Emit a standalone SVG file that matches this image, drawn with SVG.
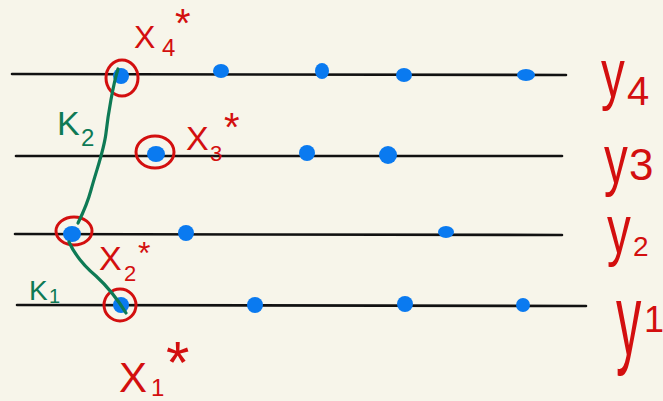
<svg xmlns="http://www.w3.org/2000/svg" width="663" height="401" viewBox="0 0 663 401">
<style>
.ln{stroke:#111;stroke-width:2.6;fill:none;stroke-linecap:round}
.dot{fill:#0a7af0}
.ring{fill:none;stroke:#d30f0f;stroke-width:3}
.grn{fill:none;stroke:#0e7a55;stroke-width:3.2;stroke-linecap:round}
.red{fill:#d30f0f;font-family:"Liberation Sans",Arial,sans-serif}
.gt{fill:#0e7a55;font-family:"Liberation Sans",Arial,sans-serif}
</style>
<rect width="663" height="401" fill="#f7f5ea"/>
<g id="lines">
<line class="ln" x1="12" y1="74" x2="566" y2="75"/>
<line class="ln" x1="16" y1="156" x2="562" y2="156"/>
<line class="ln" x1="15" y1="234" x2="562" y2="235"/>
<line class="ln" x1="17" y1="305" x2="586" y2="306"/>
</g>
<g id="dots">
<ellipse class="dot" cx="121" cy="76" rx="8" ry="8"/>
<ellipse class="dot" cx="221" cy="71" rx="8" ry="7"/>
<ellipse class="dot" cx="322" cy="71" rx="7" ry="8"/>
<ellipse class="dot" cx="404" cy="75" rx="8" ry="7"/>
<ellipse class="dot" cx="526" cy="75" rx="9" ry="6"/>
<ellipse class="dot" cx="156" cy="154" rx="9" ry="8"/>
<ellipse class="dot" cx="307" cy="153" rx="8" ry="8"/>
<ellipse class="dot" cx="388" cy="155" rx="9" ry="9"/>
<ellipse class="dot" cx="72" cy="234" rx="9" ry="8"/>
<ellipse class="dot" cx="186" cy="233" rx="8" ry="8"/>
<ellipse class="dot" cx="446" cy="232" rx="8" ry="6"/>
<ellipse class="dot" cx="121" cy="305" rx="8" ry="8"/>
<ellipse class="dot" cx="255" cy="305" rx="8" ry="8"/>
<ellipse class="dot" cx="405" cy="304" rx="8" ry="8"/>
<ellipse class="dot" cx="523" cy="305" rx="7" ry="7"/>
</g>
<g id="rings">
<ellipse class="ring" cx="122" cy="78" rx="16" ry="18"/>
<ellipse class="ring" cx="155" cy="152" rx="19" ry="16"/>
<ellipse class="ring" cx="74" cy="231" rx="18" ry="14"/>
<ellipse class="ring" cx="120" cy="305" rx="16" ry="16"/>
</g>
<g id="connectors">
<path class="grn" d="M118 69 C113 85 108 115 106 133 C104 150 98 165 91 190 C87 205 82 215 78 223"/>
<path class="grn" d="M69 242 C75 255 84 266 96 276 C108 287 118 300 126 313"/>
</g>
<g id="label-K2">
<text class="gt" x="57" y="135" font-size="34">K</text>
<text class="gt" x="81" y="146" font-size="24">2</text>
</g>
<g id="label-K1">
<text class="gt" x="29" y="300" font-size="28">K</text>
<text class="gt" x="49" y="303" font-size="20">1</text>
</g>
<g id="label-x4">
<text class="red" x="134" y="48" font-size="32">X</text>
<text class="red" x="162" y="56" font-size="24">4</text>
<text class="red" x="175" y="37" font-size="40">*</text>
</g>
<g id="label-x3">
<text class="red" x="186" y="150" font-size="34">X</text>
<text class="red" x="210" y="161" font-size="22">3</text>
<text class="red" x="224" y="141" font-size="40">*</text>
</g>
<g id="label-x2">
<text class="red" x="99" y="270" font-size="34">X</text>
<text class="red" x="124" y="281" font-size="22">2</text>
<text class="red" x="138" y="264" font-size="32">*</text>
</g>
<g id="label-x1">
<text class="red" x="119" y="392" font-size="42">X</text>
<text class="red" x="151" y="396" font-size="24">1</text>
<text class="red" x="166" y="383" font-size="60">*</text>
</g>
<g id="label-y4">
<text class="red" transform="translate(601 97) scale(0.7 1)" font-size="68">y</text>
<text class="red" x="627" y="105" font-size="40">4</text>
</g>
<g id="label-y3">
<text class="red" transform="translate(604 183) scale(0.7 1)" font-size="68">y</text>
<text class="red" x="629" y="180" font-size="44">3</text>
</g>
<g id="label-y2">
<text class="red" transform="translate(607 253) scale(0.7 1)" font-size="68">y</text>
<text class="red" x="633" y="256" font-size="28">2</text>
</g>
<g id="label-y1">
<text class="red" transform="translate(616 355) scale(0.55 1.1)" font-size="92">y</text>
<text class="red" x="644" y="332" font-size="36">1</text>
</g>
</svg>
